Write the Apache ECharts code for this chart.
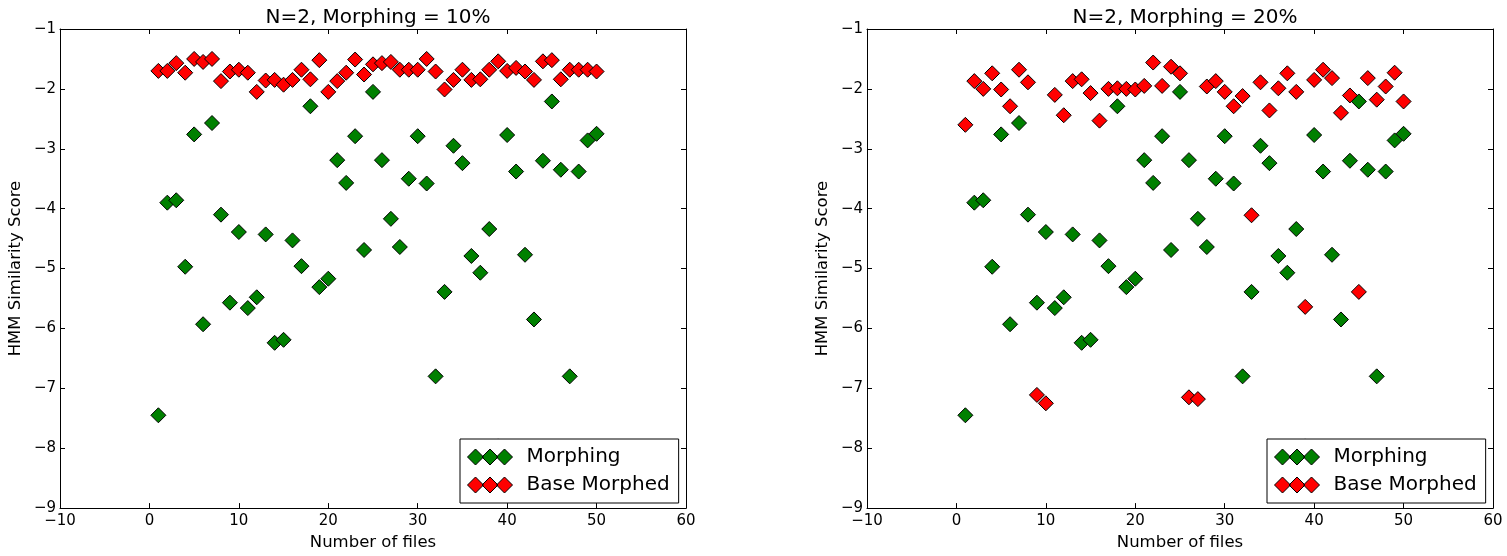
<!DOCTYPE html>
<html>
<head>
<meta charset="utf-8">
<script src="https://cdn.jsdelivr.net/npm/echarts@6/dist/echarts.min.js"></script>
<style>
html,body{margin:0;padding:0;background:#fff;}
#chart{width:1507px;height:556px;}
</style>
</head>
<body>
<div id="chart"></div>
<script>
// ---- data ----
const files = [1,2,3,4,5,6,7,8,9,10,11,12,13,14,15,16,17,18,19,20,21,22,23,24,25,26,27,28,29,30,31,32,33,34,35,36,37,38,39,40,41,42,43,44,45,46,47,48,49,50];
const morphing = [-7.45,-3.90,-3.86,-4.97,-2.76,-5.93,-2.57,-4.10,-5.57,-4.39,-5.66,-5.48,-4.43,-6.24,-6.19,-4.53,-4.96,-2.29,-5.31,-5.17,-3.19,-3.57,-2.79,-4.69,-2.05,-3.19,-4.17,-4.64,-3.50,-2.79,-3.58,-6.80,-5.39,-2.95,-3.24,-4.79,-5.07,-4.34,-7.97,-2.77,-3.38,-4.77,-5.85,-3.20,-2.21,-3.35,-6.80,-3.38,-2.86,-2.75];
const baseMorphed10 = [-1.70,-1.70,-1.57,-1.73,-1.50,-1.55,-1.50,-1.87,-1.71,-1.68,-1.73,-2.05,-1.86,-1.85,-1.93,-1.85,-1.68,-1.84,-1.52,-2.05,-1.87,-1.73,-1.51,-1.76,-1.59,-1.57,-1.55,-1.68,-1.68,-1.68,-1.50,-1.71,-2.01,-1.85,-1.68,-1.85,-1.84,-1.68,-1.54,-1.70,-1.65,-1.71,-1.85,-1.54,-1.52,-1.84,-1.68,-1.68,-1.68,-1.71];
const baseMorphed20 = [-2.60,-1.87,-2.00,-1.74,-2.01,-2.29,-1.68,-1.89,-7.11,-7.25,-2.10,-2.44,-1.87,-1.84,-2.07,-2.53,-2.00,-1.99,-2.00,-2.01,-1.95,-1.56,-1.95,-1.63,-1.74,-7.15,-7.18,-1.96,-1.87,-2.05,-2.29,-2.12,-4.11,-1.89,-2.36,-1.99,-1.74,-2.05,-5.64,-1.85,-1.68,-1.82,-2.40,-2.11,-5.39,-1.82,-2.18,-1.96,-1.73,-2.21];
const titles = ['N=2, Morphing = 10%', 'N=2, Morphing = 20%'];
const seriesNames = ['Morphing', 'Base Morphed'];
const xName = 'Number of files';
const yName = 'HMM Similarity Score';

// ---- chart ----
const FONT = 'DejaVu Sans';
const GREEN = '#008000', RED = '#ff0000';
const minus = v => String(v).replace('-', '\u2212');
const pair = ys => files.map((x, i) => [x, ys[i]]);
const threeDiamonds = 'path://M0,8L8,0L16,8L8,16Z M14.5,8L22.5,0L30.5,8L22.5,16Z M29,8L37,0L45,8L37,16Z';

const grids = [
  {left: 60, top: 29, width: 626, height: 484},
  {left: 867, top: 29, width: 626, height: 484}
];

const xAxes = [], yAxes = [], series = [], legends = [], titleArr = [];
grids.forEach((g, gi) => {
  const lineStyle = {color: '#000', width: 1};
  xAxes.push({
    type: 'value', gridIndex: gi, min: -10, max: 60, interval: 10, position: 'bottom',
    name: xName, nameLocation: 'middle', nameGap: 23,
    nameTextStyle: {fontFamily: FONT, fontSize: 16.5, color: '#000'},
    axisLine: {show: true, onZero: false, lineStyle},
    axisTick: {show: true, inside: true, length: 5, lineStyle},
    axisLabel: {fontFamily: FONT, fontSize: 15, color: '#000', margin: 6, formatter: minus},
    splitLine: {show: false}
  });
  xAxes.push({
    type: 'value', gridIndex: gi, min: -10, max: 60, interval: 10, position: 'top',
    axisLine: {show: true, onZero: false, lineStyle},
    axisTick: {show: true, inside: true, length: 5, lineStyle},
    axisLabel: {show: false}, splitLine: {show: false}
  });
  yAxes.push({
    type: 'value', gridIndex: gi, min: -9, max: -1, interval: 1, position: 'left',
    name: yName, nameLocation: 'middle', nameGap: 36, nameRotate: 90,
    nameTextStyle: {fontFamily: FONT, fontSize: 16.5, color: '#000'},
    axisLine: {show: true, onZero: false, lineStyle},
    axisTick: {show: true, inside: true, length: 5, lineStyle},
    axisLabel: {fontFamily: FONT, fontSize: 15, color: '#000', margin: 4, formatter: minus},
    splitLine: {show: false}
  });
  yAxes.push({
    type: 'value', gridIndex: gi, min: -9, max: -1, interval: 1, position: 'right',
    axisLine: {show: true, onZero: false, lineStyle},
    axisTick: {show: true, inside: true, length: 5, lineStyle},
    axisLabel: {show: false}, splitLine: {show: false}
  });
  const base = gi === 0 ? baseMorphed10 : baseMorphed20;
  [[morphing, GREEN], [base, RED]].forEach(([ys, col], si) => {
    series.push({
      type: 'scatter', name: seriesNames[si], xAxisIndex: gi * 2, yAxisIndex: gi * 2,
      symbol: 'diamond', symbolSize: 15,
      itemStyle: {color: col, borderColor: '#000', borderWidth: 1, opacity: 1},
      emphasis: {disabled: true},
      data: pair(ys), z: 2 + si
    });
  });
  titleArr.push({
    text: titles[gi], left: g.left + g.width / 2, top: 3, textAlign: 'center',
    textStyle: {fontFamily: FONT, fontSize: 20, fontWeight: 'normal', color: '#000'}
  });
  legends.push({
    orient: 'vertical', left: g.left + 400, top: 439,
    backgroundColor: '#fff', borderColor: '#000', borderWidth: 1, borderRadius: 0,
    padding: [8, 9, 8, 7], itemGap: 8, itemWidth: 45, itemHeight: 16,
    selectedMode: false, z: 10,
    textStyle: {fontFamily: FONT, fontSize: 20, color: '#000', padding: [0, 0, 0, 9]},
    data: [
      {name: seriesNames[0], icon: threeDiamonds, itemStyle: {color: GREEN, borderColor: '#000', borderWidth: 1}},
      {name: seriesNames[1], icon: threeDiamonds, itemStyle: {color: RED, borderColor: '#000', borderWidth: 1}}
    ]
  });
});

const chart = echarts.init(document.getElementById('chart'), null, {renderer: 'canvas'});
chart.setOption({
  animation: false,
  backgroundColor: '#fff',
  title: titleArr,
  grid: grids,
  xAxis: xAxes,
  yAxis: yAxes,
  legend: legends,
  series: series
});
</script>
</body>
</html>
